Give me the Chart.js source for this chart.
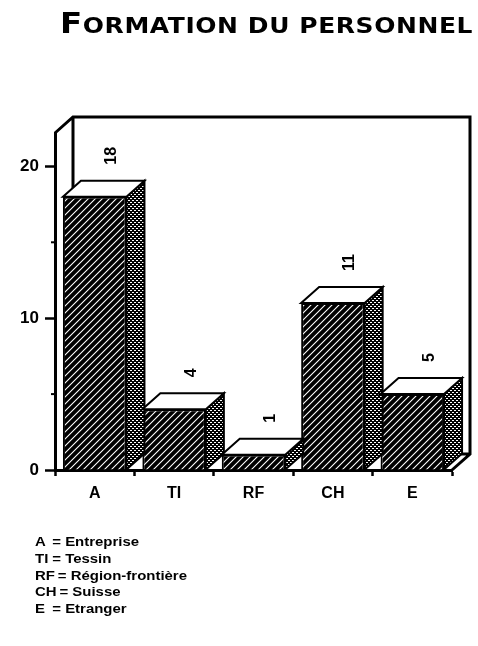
<!DOCTYPE html>
<html><head><meta charset="utf-8">
<script src="https://cdn.jsdelivr.net/npm/chart.js@4.4.0/dist/chart.umd.min.js"></script>
<style>
html,body{margin:0;padding:0;background:#fff;}
#wrap{position:relative;width:478px;height:646px;overflow:hidden;background:#fff;}
#c{position:absolute;left:0;top:0;}
#title{position:absolute;left:60px;top:7px;font-family:"DejaVu Sans","Liberation Sans",Arial,sans-serif;font-weight:bold;white-space:nowrap;transform-origin:0 0;color:#000;letter-spacing:0.5px;line-height:34px;}
#title .big{font-size:28px;}
#title .sc{font-size:21.5px;}
#key{position:absolute;left:35px;top:534px;font-family:"Liberation Sans",Arial,sans-serif;font-weight:bold;font-size:13px;line-height:16.8px;color:#000;transform-origin:0 0;transform:scaleX(1.15);white-space:nowrap;}
#key .code{display:inline-block;min-width:12.5px;margin-right:2.5px;}
</style></head><body>
<div id="wrap">
<canvas id="c" width="478" height="646"></canvas>
<div id="title"><span class="big">F</span><span class="sc">ORMATION DU PERSONNEL</span></div>
<div id="key"></div>
</div>
<script>
// ---- data ----
const categories = ['A', 'TI', 'RF', 'CH', 'E'];
const values = [18, 4, 1, 11, 5];
const yTickValues = [0, 10, 20];
const yMinorTicks = [5, 15];
const keyCodes = ['A', 'TI', 'RF', 'CH', 'E'];
const keyNames = ['Entreprise', 'Tessin', 'Région-frontière', 'Suisse', 'Etranger'];

// ---- key text ----
const keyEl = document.getElementById('key');
keyCodes.forEach((c, i) => {
  const line = document.createElement('div');
  const code = document.createElement('span');
  code.className = 'code';
  code.textContent = c;
  line.appendChild(code);
  line.appendChild(document.createTextNode('= ' + keyNames[i]));
  keyEl.appendChild(line);
});

// ---- title fit ----
const titleEl = document.getElementById('title');
const tw = titleEl.getBoundingClientRect().width;
titleEl.style.transform = 'scaleX(' + (413 / tw) + ')';

// ---- patterns ----
function makeFront() {
  const s = 7;
  const c = document.createElement('canvas'); c.width = s; c.height = s;
  const g = c.getContext('2d');
  g.fillStyle = '#000'; g.fillRect(0, 0, s, s);
  g.strokeStyle = '#fff'; g.lineWidth = 1.1;
  g.beginPath();
  g.moveTo(0, s); g.lineTo(s, 0);
  g.moveTo(-1, 1); g.lineTo(1, -1);
  g.moveTo(s - 1, s + 1); g.lineTo(s + 1, s - 1);
  g.stroke();
  return g.createPattern(c, 'repeat');
}
function makeSide() {
  const s = 4;
  const c = document.createElement('canvas'); c.width = s; c.height = s;
  const g = c.getContext('2d');
  g.fillStyle = '#000'; g.fillRect(0, 0, s, s);
  g.fillStyle = '#fff';
  g.fillRect(0, 0, 2, 1); g.fillRect(2, 2, 2, 1);
  return g.createPattern(c, 'repeat');
}
const frontPat = makeFront();
const sidePat = makeSide();
const DX = 18, DY = -16;
const FONT = '"Liberation Sans", Arial, sans-serif';

const box3d = {
  id: 'box3d',
  beforeDatasetsDraw(chart) {
    const ctx = chart.ctx;
    const { left, right, top, bottom } = chart.chartArea;
    ctx.save();
    ctx.strokeStyle = '#000';
    ctx.lineWidth = 3;
    ctx.lineJoin = 'miter';
    ctx.beginPath();
    ctx.moveTo(left, top);
    ctx.lineTo(left + DX, top + DY);
    ctx.lineTo(right + DX, top + DY);
    ctx.lineTo(right + DX, bottom + DY);
    ctx.lineTo(right, bottom);
    ctx.moveTo(left + DX, top + DY);
    ctx.lineTo(left + DX, bottom + DY);
    ctx.lineTo(right + DX, bottom + DY);
    ctx.stroke();
    const ys = chart.scales.y;
    ctx.lineWidth = 2;
    yMinorTicks.forEach(v => {
      const p = ys.getPixelForValue(v);
      ctx.beginPath(); ctx.moveTo(left - 4, p); ctx.lineTo(left, p); ctx.stroke();
    });
    ctx.restore();
  },
  afterDatasetsDraw(chart) {
    const ctx = chart.ctx;
    const meta = chart.getDatasetMeta(0);
    ctx.save();
    ctx.strokeStyle = '#000';
    ctx.lineWidth = 2;
    ctx.lineJoin = 'miter';
    meta.data.forEach((bar, i) => {
      const { x, y, base, width } = bar.getProps(['x', 'y', 'base', 'width'], true);
      const l = x - width / 2, r = x + width / 2;
      ctx.beginPath();
      ctx.moveTo(r, y); ctx.lineTo(r + DX, y + DY); ctx.lineTo(r + DX, base + DY); ctx.lineTo(r, base);
      ctx.closePath();
      ctx.fillStyle = sidePat; ctx.fill(); ctx.stroke();
      ctx.beginPath();
      ctx.moveTo(l, y); ctx.lineTo(l + DX, y + DY); ctx.lineTo(r + DX, y + DY); ctx.lineTo(r, y);
      ctx.closePath();
      ctx.fillStyle = '#fff'; ctx.fill(); ctx.stroke();
      ctx.save();
      ctx.translate(x + DX - 1, y + DY - 16);
      ctx.rotate(-Math.PI / 2);
      ctx.fillStyle = '#000';
      ctx.font = 'bold 16px ' + FONT;
      ctx.textAlign = 'left';
      ctx.textBaseline = 'middle';
      ctx.fillText(String(values[i]), 0, 0);
      ctx.restore();
    });
    ctx.restore();
  }
};

new Chart(document.getElementById('c'), {
  type: 'bar',
  data: {
    labels: categories,
    datasets: [{
      data: values,
      backgroundColor: frontPat,
      borderColor: '#000',
      borderWidth: 2,
      borderSkipped: 'bottom',
      categoryPercentage: 0.8,
      barPercentage: 1.0
    }]
  },
  options: {
    responsive: false,
    animation: false,
    devicePixelRatio: 1,
    layout: { padding: { top: 133, right: 26, left: 0, bottom: 0 } },
    plugins: { legend: { display: false }, tooltip: { enabled: false }, title: { display: false } },
    scales: {
      x: {
        type: 'category',
        afterFit: s => { s.height = 176; },
        grid: { drawOnChartArea: false, offset: true, tickLength: 6, tickWidth: 2.5, tickColor: '#000' },
        border: { display: true, color: '#000', width: 3 },
        ticks: { color: '#000', font: { family: FONT, size: 16, weight: 'bold' }, padding: 8, maxRotation: 0 }
      },
      y: {
        min: 0,
        max: 22.2,
        afterFit: s => { s.width = 55; },
        afterBuildTicks: s => { s.ticks = yTickValues.map(v => ({ value: v })); },
        grid: { drawOnChartArea: false, tickLength: 10, tickWidth: 2.5, tickColor: '#000' },
        border: { display: true, color: '#000', width: 3 },
        ticks: { color: '#000', font: { family: FONT, size: 17, weight: 'bold' }, padding: 6 }
      }
    }
  },
  plugins: [box3d]
});
</script>
</body></html>
